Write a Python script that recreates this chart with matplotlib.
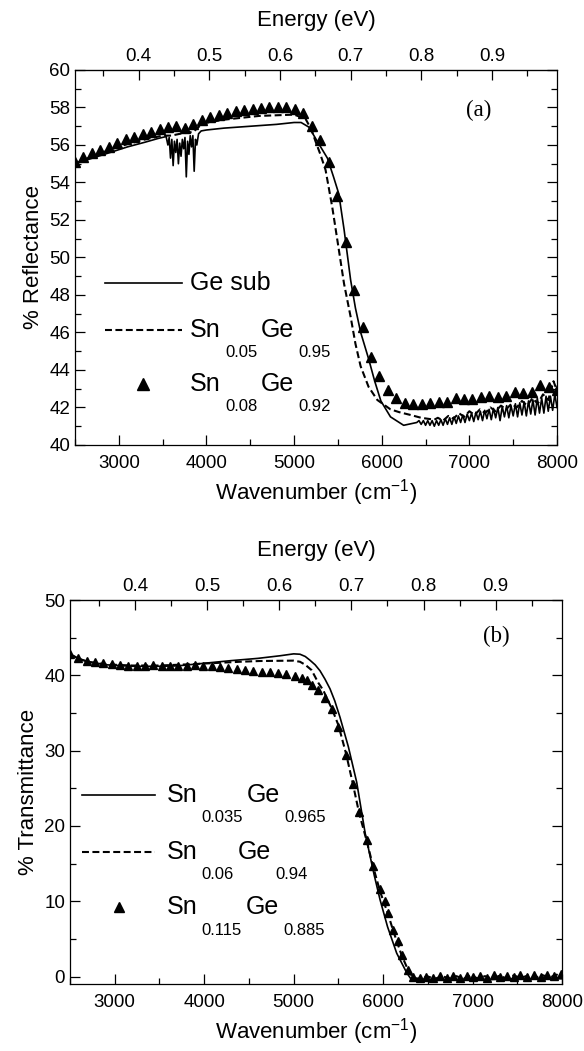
import matplotlib
matplotlib.use("Agg")
import matplotlib.pyplot as plt
from matplotlib.ticker import MultipleLocator

plt.rcParams['font.family'] = ['Liberation Sans', 'DejaVu Sans']
plt.rcParams['mathtext.fontset'] = 'custom'
plt.rcParams['mathtext.rm'] = 'Liberation Sans'
plt.rcParams['lines.scale_dashes'] = False

EV_PER_CM = 1.23984e-4

# ---- (a) reflectance ----
# Ge substrate (solid), incl. absorption dips near 3700 and noisy tail
refl_ge_wn = [2500, 2700, 2900, 3100, 3300, 3450, 3540,
              3560, 3575, 3590, 3605, 3620, 3635, 3650, 3665, 3680, 3695,
              3710, 3725, 3740, 3755, 3770, 3785, 3800, 3815, 3830, 3845,
              3860, 3875, 3890, 3910,
              3940, 4000, 4200, 4500, 4800, 5000, 5080, 5170, 5264, 5380,
              5450, 5510, 5570, 5645, 5700, 5760, 5850, 5920, 5990, 6100,
              6250, 6400,
              6425, 6450, 6475, 6500, 6525, 6550, 6575, 6600, 6625, 6650,
              6675, 6700, 6725, 6750, 6775, 6800, 6825, 6850, 6875, 6900,
              6925, 6950, 6975, 7000, 7025, 7050, 7075, 7100, 7125, 7150,
              7175, 7200, 7225, 7250, 7275, 7300, 7325, 7350, 7375, 7400,
              7425, 7450, 7475, 7500, 7525, 7550, 7575, 7600, 7625, 7650,
              7675, 7700, 7725, 7750, 7775, 7800, 7825, 7850, 7875, 7900,
              7925, 7950, 7975, 8000]
refl_ge = [55.0, 55.3, 55.6, 55.9, 56.15, 56.35, 56.45,
           56.0, 56.4, 55.3, 56.3, 54.9, 56.2, 55.6, 56.3, 55.0, 56.1,
           55.4, 56.3, 55.8, 56.4, 54.3, 56.2, 55.5, 56.5, 55.9, 56.5,
           54.6, 56.3, 56.0, 56.6,
           56.75, 56.8, 56.9, 57.0, 57.1, 57.2, 57.2, 56.95, 56.2, 55.3,
           54.3, 53.4, 51.5, 48.8, 47.3, 46.0, 44.6, 43.4, 42.35, 41.5,
           41.05, 41.2,
           41.3, 41.1, 41.3, 41.05, 41.3, 41.05, 41.3, 41.0, 41.3, 41.05,
           41.35, 41.05, 41.4, 41.1, 41.45, 41.1, 41.5, 41.15, 41.55, 41.2,
           41.6, 41.2, 41.65, 41.3, 41.7, 41.25, 41.75, 41.35, 41.8, 41.3,
           41.85, 41.4, 41.9, 41.35, 41.95, 41.45, 42.0, 41.3, 42.05, 41.5,
           42.1, 41.45, 42.1, 41.55, 42.2, 41.5, 42.25, 41.6, 42.3, 41.55,
           42.35, 41.65, 42.4, 41.6, 42.5, 41.7, 42.5, 41.7, 42.6, 41.8,
           42.6, 41.85, 42.7, 42.0]

# Sn0.05Ge0.95 (dashed)
refl_sn05_wn = [2500, 2700, 2900, 3100, 3300, 3500, 3600, 3700, 3850, 3920,
                3960, 4200, 4600, 5000, 5130, 5200, 5244, 5300, 5359, 5435,
                5511, 5570, 5645, 5700, 5759, 5850, 5950, 6100, 6200, 6330,
                6450, 6600,
                6640, 6700, 6760, 6820, 6880, 6940, 7000, 7060, 7120, 7180,
                7240, 7300, 7360, 7420, 7480, 7540, 7600, 7660, 7720, 7780,
                7840, 7900, 7960, 8000]
refl_sn05 = [55.0, 55.4, 55.75, 56.05, 56.3, 56.5, 56.5, 56.6, 56.7, 57.0,
             57.15, 57.35, 57.55, 57.62, 57.4, 56.8, 56.2, 55.5, 54.67, 52.7,
             50.4, 48.6, 46.84, 45.4, 44.2, 43.1, 42.4, 41.9, 41.75, 41.6,
             41.45, 41.35,
             41.45, 41.3, 41.55, 41.4, 41.7, 41.5, 41.8, 41.6, 41.9, 41.7,
             42.0, 41.8, 42.1, 41.9, 42.2, 42.0, 42.35, 42.1, 42.5, 42.2,
             42.7, 42.4, 43.4, 42.9]

# Sn0.08Ge0.92 (triangles)
refl_sn08_wn = [2500, 2597, 2693, 2790, 2886, 2982, 3079, 3176, 3272, 3369,
                3465, 3562, 3658, 3755, 3851, 3947, 4044, 4140, 4237, 4333,
                4430, 4526, 4623, 4719, 4816, 4912, 5009, 5105, 5202, 5298,
                5395, 5491, 5588, 5684, 5781, 5877, 5974, 6070, 6167, 6263,
                6360, 6456, 6553, 6649, 6746, 6842, 6939, 7035, 7132, 7228,
                7325, 7421, 7518, 7614, 7711, 7807, 7904, 8000]
refl_sn08 = [55.1, 55.35, 55.55, 55.75, 55.9, 56.1, 56.3, 56.45, 56.6, 56.7,
             56.85, 56.95, 57.0, 56.9, 57.1, 57.35, 57.5, 57.62, 57.72, 57.8,
             57.86, 57.92, 57.98, 58.02, 58.04, 58.0, 57.9, 57.7, 57.0, 56.27,
             55.1, 53.3, 50.8, 48.27, 46.3, 44.7, 43.7, 42.93, 42.49, 42.26,
             42.19, 42.16, 42.22, 42.3, 42.3, 42.49, 42.47, 42.47, 42.56, 42.63,
             42.58, 42.63, 42.81, 42.76, 42.84, 43.2, 43.11, 42.93]

# ---- (b) transmittance ----
# Sn0.035Ge0.965 (solid)
trans_sn035_wn = [2500, 2600, 2700, 2900, 3200, 3500, 3700, 4000, 4300, 4600,
                  4850, 5000, 5071, 5130, 5183, 5240, 5295, 5350, 5407, 5460,
                  5519, 5612, 5705, 5800, 5900, 5966, 6050, 6152, 6264, 6310,
                  6400, 6600, 6800, 7000, 7200, 7400, 7600, 7800, 8000]
trans_sn035 = [42.8, 42.2, 41.8, 41.4, 41.2, 41.2, 41.25, 41.6, 41.95, 42.25,
               42.6, 42.85, 42.8, 42.5, 42.0, 41.4, 40.6, 39.5, 38.2, 36.6,
               34.4, 30.5, 25.8, 19.0, 13.5, 10.2, 6.6, 3.1, 0.5, -0.3,
               -0.4, -0.35, -0.4, -0.3, -0.4, -0.3, -0.35, -0.25, -0.3]

# Sn0.06Ge0.94 (dashed)
trans_sn06_wn = [2500, 2600, 2700, 2900, 3200, 3500, 3800, 4065, 4400, 4624,
                 4997, 5071, 5130, 5200, 5276, 5332, 5370, 5430, 5500, 5586,
                 5660, 5734, 5817, 5891, 5966, 6058, 6115, 6208, 6282, 6338,
                 6420, 6500, 6580, 6660, 6740, 6820, 6900, 6980, 7060, 7140,
                 7220, 7300, 7380, 7460, 7540, 7620, 7700, 7780, 7860, 7940, 8000]
trans_sn06 = [42.8, 42.2, 41.8, 41.45, 41.3, 41.3, 41.45, 41.6, 41.8, 41.9,
              41.95, 41.8, 41.4, 40.7, 39.0, 38.0, 37.0, 35.5, 33.4, 29.6,
              25.7, 21.6, 18.0, 14.5, 11.3, 8.2, 6.0, 2.8, 0.8, -0.2,
              -0.3, 0.0, -0.3, 0.05, -0.25, 0.05, -0.3, 0.1, -0.25, 0.05,
              -0.3, 0.1, -0.25, 0.15, -0.2, 0.15, -0.2, 0.2, -0.15, 0.25, 0.0]

# Sn0.115Ge0.885 (triangles)
trans_sn115_wn = [2500, 2593, 2686, 2780, 2873, 2966, 3060, 3153, 3246, 3339,
                  3432, 3525, 3618, 3711, 3804, 3897, 3990, 4083, 4176, 4269,
                  4362, 4455, 4548, 4641, 4734, 4827, 4920, 5013, 5090, 5146,
                  5202, 5276, 5351, 5426, 5500, 5586, 5660, 5734, 5817, 5891,
                  5966, 6022, 6058, 6115, 6170, 6208, 6282, 6338,
                  6410, 6485, 6560, 6635, 6710, 6785, 6860, 6935, 7010, 7085,
                  7160, 7235, 7310, 7385, 7460, 7535, 7610, 7685, 7760, 7835,
                  7910, 7985]
trans_sn115 = [42.84, 42.26, 41.95, 41.82, 41.6, 41.51, 41.38, 41.29, 41.29, 41.29,
               41.32, 41.29, 41.29, 41.25, 41.25, 41.32, 41.25, 41.2, 41.1, 41.0,
               40.85, 40.72, 40.63, 40.5, 40.41, 40.32, 40.14, 39.92, 39.61, 39.4,
               38.73, 38.06, 36.96, 35.5, 33.2, 29.44, 25.6, 21.8, 18.17, 14.72,
               11.6, 10.0, 8.4, 6.2, 4.7, 2.9, 0.9, -0.1,
               -0.2, 0.0, -0.2, 0.1, -0.15, 0.05, -0.2, 0.1, -0.1, 0.1,
               -0.15, 0.15, -0.1, 0.1, -0.1, 0.2, -0.05, 0.2, 0.0, 0.25,
               0.1, 0.3]

energy_ticks = [0.4, 0.5, 0.6, 0.7, 0.8, 0.9]
energy_minor = [0.35, 0.45, 0.55, 0.65, 0.75, 0.85, 0.95]


def wn_to_ev(x):
    return x * EV_PER_CM


def ev_to_wn(e):
    return e / EV_PER_CM


def style_axes(ax, ylim, ymajor, yminor, ylabel):
    ax.set_xlim(2500, 8000)
    ax.set_ylim(*ylim)
    ax.xaxis.set_major_locator(MultipleLocator(1000))
    ax.xaxis.set_minor_locator(MultipleLocator(500))
    ax.yaxis.set_major_locator(MultipleLocator(ymajor))
    ax.yaxis.set_minor_locator(MultipleLocator(yminor))
    ax.tick_params(which='both', direction='in', right=True, top=False,
                   labelsize=13.5, width=0.9)
    ax.tick_params(axis='x', pad=7)
    ax.tick_params(which='major', length=7)
    ax.tick_params(which='minor', length=4)
    for s in ax.spines.values():
        s.set_linewidth(0.9)
    ax.set_xlabel('Wavenumber (cm$^{-1}$)', fontsize=16, labelpad=4)
    ax.set_ylabel(ylabel, fontsize=16)

    sec = ax.secondary_xaxis('top', functions=(wn_to_ev, ev_to_wn))
    sec.set_xticks(energy_ticks, labels=[f'{e:.1f}' for e in energy_ticks])
    sec.set_xticks(energy_minor, minor=True)
    sec.tick_params(which='both', direction='in', labelsize=13.5, width=0.9)
    sec.tick_params(which='major', length=7)
    sec.tick_params(which='minor', length=4)
    sec.set_xlabel('Energy (eV)', fontsize=16, labelpad=16)


def chem_label(ax, x, y, parts, size=18, subsize=12):
    # Origin-style label: word, then lowered subscript, then next word
    word = ax.text(x, y, parts[0][0], transform=ax.transAxes,
                   fontsize=size, va='center', ha='left')
    for i, (w, sub) in enumerate(parts):
        if i > 0:
            word = ax.annotate(w, xy=(1, 0.5), xycoords=(last_sub, word),
                               xytext=(2.5, 0), textcoords='offset points',
                               fontsize=size, va='center', ha='left')
        last_sub = ax.annotate(sub, xy=(1, 0.5), xycoords=word,
                               xytext=(3, -16.5), textcoords='offset points',
                               fontsize=subsize, va='center', ha='left')


fig = plt.figure(figsize=(5.84, 10.51), dpi=100)
ax1 = fig.add_axes([0.1284, 0.5766, 0.8254, 0.3568])
ax2 = fig.add_axes([0.1199, 0.0637, 0.8424, 0.3654])

# (a)
ax1.plot(refl_ge_wn, refl_ge, color='black', lw=1.2)
ax1.plot(refl_sn05_wn, refl_sn05, color='black', lw=1.5, dashes=(5, 2.5))
ax1.plot(refl_sn08_wn, refl_sn08, ls='none', marker='^', ms=7.5, color='black')
style_axes(ax1, (40, 60), 2, 1, '% Reflectance')
ax1.text(0.837, 0.893, '(a)', transform=ax1.transAxes, fontsize=16.5,
         family='Liberation Serif', ha='center', va='center')

tr = ax1.transAxes
ax1.plot([0.062, 0.222], [0.432, 0.432], color='black', lw=1.2, transform=tr)
ax1.text(0.239, 0.432, 'Ge sub', transform=tr, fontsize=18, va='center')
ax1.plot([0.062, 0.222], [0.307, 0.307], color='black', lw=1.5,
         dashes=(5, 2.5), transform=tr)
chem_label(ax1, 0.239, 0.307, [('Sn', '0.05'), ('Ge', '0.95')])
ax1.plot([0.141], [0.163], marker='^', ms=8, color='black', transform=tr)
chem_label(ax1, 0.239, 0.163, [('Sn', '0.08'), ('Ge', '0.92')])

# (b)
ax2.plot(trans_sn035_wn, trans_sn035, color='black', lw=1.2)
ax2.plot(trans_sn06_wn, trans_sn06, color='black', lw=1.5, dashes=(5, 2.5))
ax2.plot(trans_sn115_wn, trans_sn115, ls='none', marker='^', ms=6, color='black')
style_axes(ax2, (-1, 50), 10, 5, '% Transmittance')
ax2.text(0.867, 0.904, '(b)', transform=ax2.transAxes, fontsize=16.5,
         family='Liberation Serif', ha='center', va='center')

tr = ax2.transAxes
ax2.plot([0.024, 0.173], [0.493, 0.493], color='black', lw=1.2, transform=tr)
chem_label(ax2, 0.197, 0.493, [('Sn', '0.035'), ('Ge', '0.965')])
ax2.plot([0.024, 0.173], [0.344, 0.344], color='black', lw=1.5,
         dashes=(5, 2.5), transform=tr)
chem_label(ax2, 0.197, 0.344, [('Sn', '0.06'), ('Ge', '0.94')])
ax2.plot([0.1], [0.2], marker='^', ms=6.5, color='black', transform=tr)
chem_label(ax2, 0.197, 0.2, [('Sn', '0.115'), ('Ge', '0.885')])

fig.savefig('out.png', dpi=100)
